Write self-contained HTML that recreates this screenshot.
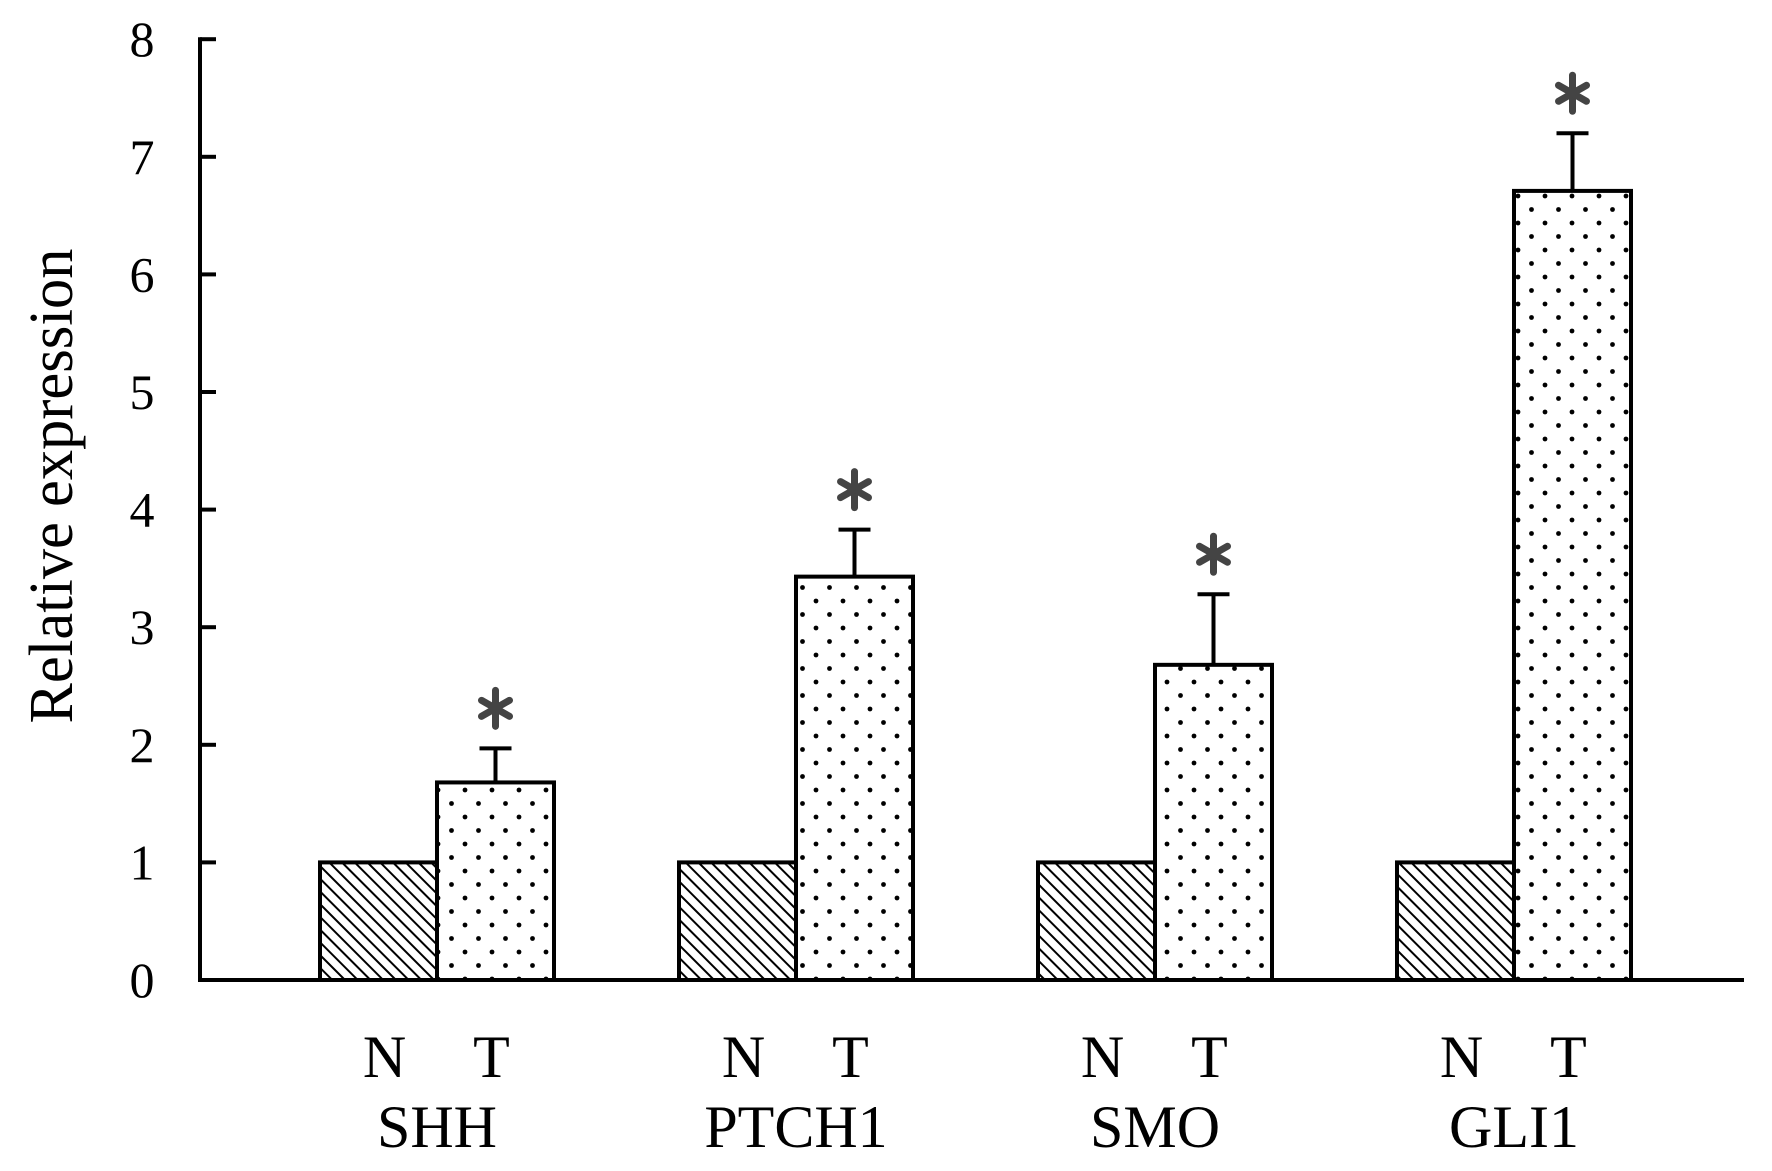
<!DOCTYPE html>
<html><head><meta charset="utf-8"><style>
html,body{margin:0;padding:0;background:#fff;}
svg{display:block;}
text{font-family:"Liberation Serif",serif;fill:#000;}
</style></head><body>
<svg id="chart" width="1772" height="1171" viewBox="0 0 1772 1171" xmlns="http://www.w3.org/2000/svg">
<defs>
<pattern id="hatch" patternUnits="userSpaceOnUse" width="9" height="9" patternTransform="rotate(-45)">
<rect width="9" height="9" fill="#fff"/>
<line x1="0" y1="0" x2="0" y2="9" stroke="#000" stroke-width="4"/>
</pattern>
<pattern id="dots" patternUnits="userSpaceOnUse" x="0" y="0" width="27" height="27">
<rect width="27" height="27" fill="#fff"/>
<circle cx="6" cy="7" r="2.4" fill="#000"/>
<circle cx="19.5" cy="20.5" r="2.4" fill="#000"/>
</pattern>
</defs>
<g id="plot"></g>
</svg>
<script>
const categories = ["SHH","PTCH1","SMO","GLI1"];
const nValues = [1,1,1,1];
const tValues = [1.68,3.43,2.68,6.71];
const tErrors = [0.29,0.40,0.60,0.49];
const yTicks = [0,1,2,3,4,5,6,7,8];
const NS='http://www.w3.org/2000/svg';
const g=document.getElementById('plot');
const y0=980, unit=117.6, axisX=200, axisEnd=1744;
const groupStart=320, groupStep=359, barW=117;
function yScale(v){return y0-v*unit;}
function xGroup(i){return groupStart+i*groupStep;}
function mk(tag,attrs){const e=document.createElementNS(NS,tag);for(const k in attrs)e.setAttribute(k,attrs[k]);g.appendChild(e);return e;}
let e=mk('line',{x1:axisX,y1:yScale(8)-2,x2:axisX,y2:y0+2,stroke:'#000','stroke-width':4});


yTicks.forEach(t=>{
  const y=yScale(t);
  let tk=mk('line',{x1:axisX,y1:y,x2:axisX+16,y2:y,stroke:'#000','stroke-width':4});
  
  
  let lb=mk('text',{x:142,y:y+17,'font-size':50,'text-anchor':'middle'});
  lb.textContent=t;
  
  
});
e=mk('line',{x1:axisX-2,y1:y0,x2:axisEnd,y2:y0,stroke:'#000','stroke-width':4});


categories.forEach((c,i)=>{
  const xn=xGroup(i), xt=xn+barW;
  const yn=yScale(nValues[i]), yt=yScale(tValues[i]), ye=yScale(tValues[i]+tErrors[i]);
  let b=mk('rect',{x:xn,y:yn,width:barW,height:y0-yn,fill:'url(#hatch)',stroke:'#000','stroke-width':4});
  
  
  const cx=xt+barW/2;
  let el=mk('line',{x1:cx,y1:yt,x2:cx,y2:ye,stroke:'#000','stroke-width':4});
  
  
  let cap=mk('line',{x1:cx-16,y1:ye,x2:cx+16,y2:ye,stroke:'#000','stroke-width':4});
  
  
  b=mk('rect',{x:xt,y:yt,width:barW,height:y0-yt,fill:'url(#dots)',stroke:'#000','stroke-width':4});
  
  
  const ay=ye-40;
  const ast=document.createElementNS(NS,'g');
  
  
  [[0,-18,0,18],[-14,-8,14,8],[-14,8,14,-8]].forEach(s=>{
    const l=document.createElementNS(NS,'line');
    l.setAttribute('x1',cx+s[0]);l.setAttribute('y1',ay+s[1]);l.setAttribute('x2',cx+s[2]);l.setAttribute('y2',ay+s[3]);
    l.setAttribute('stroke','#444');l.setAttribute('stroke-width',7);l.setAttribute('stroke-linecap','round');
    ast.appendChild(l);
  });
  g.appendChild(ast);
  let tn=mk('text',{x:xn+barW/2+6,y:1077,'font-size':60,'text-anchor':'middle'});
  tn.textContent='N';
  
  
  let tt=mk('text',{x:cx-4,y:1077,'font-size':60,'text-anchor':'middle'});
  tt.textContent='T';
  
  
  let gl=mk('text',{x:xn+barW,y:1147,'font-size':60,'text-anchor':'middle'});
  gl.textContent=c;
  
  
});
let yt=mk('text',{x:0,y:0,'font-size':62,'text-anchor':'middle',transform:'translate(72,486) rotate(-90)',textLength:475,lengthAdjust:'spacingAndGlyphs'});
yt.textContent='Relative expression';


</script>
</body></html>
